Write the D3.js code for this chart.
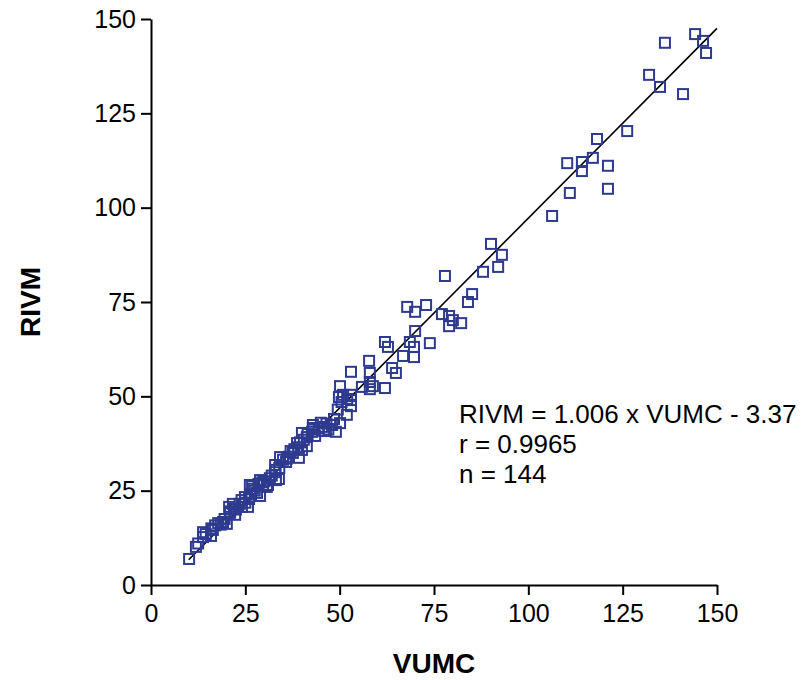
<!DOCTYPE html>
<html>
<head>
<meta charset="utf-8">
<script src="https://cdn.jsdelivr.net/npm/d3@7"></script>
<style>
  body { margin: 0; background: #fff; }
  svg { display: block; }
</style>
</head>
<body>
<div id="chart"></div>
<script>
// VUMC (x) and RIVM (y) readings
const vumc = [
  10.1, 11.9, 13.8, 13.8, 15.9, 16.4, 17.8, 19.1, 20.1, 20.7,
  21.7, 20.9, 22.3, 24.1, 24.9, 26.0, 25.7, 26.8, 28.9, 28.9,
  29.7, 31.0, 33.1, 32.9, 28.1, 26.2, 30.7, 33.9, 32.9, 34.2,
  35.8, 37.6, 38.7, 39.2, 40.0, 41.3, 40.0, 41.3, 42.7, 42.9,
  45.9, 48.0, 49.0, 50.1, 51.9, 42.9, 45.9, 53.0, 53.0, 53.0,
  50.9, 49.8, 50.1, 53.0, 57.8, 58.0, 58.0, 55.9, 58.8, 58.0,
  62.0, 63.9, 64.9, 62.0, 62.8, 66.8, 69.7, 69.7, 68.6, 70.0,
  73.9, 67.9, 70.0, 72.9, 77.1, 79.0, 80.0, 79.0, 82.2, 77.9,
  88.0, 85.1, 84.0, 90.1, 93.0, 92.0, 106.3, 111.0, 121.1, 110.3,
  114.2, 114.2, 117.1, 118.2, 121.1, 126.2, 132.0, 134.9, 136.2, 141.0,
  144.2, 146.3, 147.1,
  14.5, 17.0, 18.5, 21.0, 22.5, 23.5, 25.0, 27.5, 28.5, 30.0,
  31.5, 33.0, 34.0, 35.0, 36.5, 38.0, 39.5, 40.5, 41.5, 43.0,
  44.5, 46.5, 47.0, 48.5, 50.5, 52.0, 12.5, 19.5, 24.0, 26.5,
  32.0, 37.0, 45.0, 49.5, 16.0, 22.0, 27.0, 29.5, 36.0, 39.0,
  43.5
];
const rivm = [
  6.9, 10.1, 14.0, 12.7, 13.0, 14.6, 16.4, 16.7, 16.2, 20.7,
  21.5, 19.1, 18.6, 20.7, 23.3, 22.8, 20.7, 26.2, 27.8, 23.6,
  26.5, 26.5, 27.8, 29.9, 24.4, 26.5, 26.0, 28.1, 31.8, 33.9,
  32.6, 35.0, 37.6, 33.7, 35.8, 36.8, 40.3, 39.2, 40.6, 42.4,
  41.9, 42.4, 40.6, 42.9, 45.1, 41.6, 40.8, 47.4, 49.0, 50.4,
  50.4, 49.8, 52.7, 56.5, 59.4, 56.2, 53.8, 52.5, 52.7, 51.9,
  52.2, 57.5, 56.2, 64.4, 63.1, 60.7, 63.1, 60.4, 64.4, 67.3,
  64.1, 73.7, 72.4, 74.2, 71.8, 71.3, 70.2, 68.6, 69.4, 81.9,
  83.0, 77.1, 75.0, 90.4, 87.5, 84.3, 97.8, 103.9, 105.0, 111.8,
  112.1, 109.7, 113.2, 118.2, 111.1, 120.3, 135.2, 132.0, 143.7, 130.1,
  146.0, 144.2, 141.0,
  13.5, 15.8, 16.0, 19.5, 20.0, 21.5, 21.8, 25.0, 26.8, 27.5,
  28.3, 30.5, 31.0, 33.2, 34.0, 36.0, 37.8, 38.5, 40.0, 41.2,
  41.5, 42.8, 41.2, 44.0, 48.5, 49.3, 11.0, 17.5, 22.5, 24.0,
  29.0, 35.5, 43.0, 46.5, 15.0, 20.2, 25.5, 27.2, 33.5, 36.5,
  39.5
];
const xTicks = [0, 25, 50, 75, 100, 125, 150];
const yTicks = [0, 25, 50, 75, 100, 125, 150];
const slope = 1.006, intercept = -3.37;
const fitRange = [10, 150];
const statLines = ["RIVM = 1.006 x VUMC - 3.37", "r = 0.9965", "n = 144"];

const width = 806, height = 680;
const margin = {left: 151, right: 89, top: 19, bottom: 95};
const font = "Arial, 'Liberation Sans', sans-serif";
const blue = "#2d3a8f";

const svg = d3.select("#chart").append("svg")
  .attr("width", width)
  .attr("height", height);

const x = d3.scaleLinear().domain([0, 150]).range([margin.left, width - margin.right]);
const y = d3.scaleLinear().domain([0, 150]).range([height - margin.bottom, margin.top]);

const data = vumc.map((v, i) => ({v, r: rivm[i]}));

// axes
const xAxis = svg.append("g")
  .attr("transform", `translate(0,${y(0)})`)
  .call(d3.axisBottom(x).tickValues(xTicks).tickSize(10).tickPadding(9).tickSizeOuter(0));
const yAxis = svg.append("g")
  .attr("transform", `translate(${x(0)},0)`)
  .call(d3.axisLeft(y).tickValues(yTicks).tickSize(10).tickPadding(5).tickSizeOuter(0));

[xAxis, yAxis].forEach(g => {
  g.select(".domain").attr("stroke", "#000").attr("stroke-width", 2);
  g.selectAll(".tick line").attr("stroke", "#000").attr("stroke-width", 2);
  g.selectAll(".tick text")
    .attr("fill", "#000")
    .attr("font-family", font)
    .attr("font-size", 25);
});

// fit line
svg.append("line")
  .attr("x1", x(fitRange[0]))
  .attr("y1", y(slope * fitRange[0] + intercept))
  .attr("x2", x(fitRange[1]))
  .attr("y2", y(slope * fitRange[1] + intercept))
  .attr("stroke", "#000")
  .attr("stroke-width", 1.6);

// markers
const s = 10;
svg.append("g")
  .selectAll("rect")
  .data(data)
  .join("rect")
    .attr("x", d => x(d.v) - s / 2)
    .attr("y", d => y(d.r) - s / 2)
    .attr("width", s)
    .attr("height", s)
    .attr("fill", "none")
    .attr("stroke", blue)
    .attr("stroke-width", 2);

// stats text
svg.append("g")
  .selectAll("text")
  .data(statLines)
  .join("text")
    .attr("x", 459)
    .attr("y", (d, i) => 423 + i * 30)
    .attr("font-family", font)
    .attr("font-size", 26)
    .attr("fill", "#000")
    .text(d => d);

// axis titles
svg.append("text")
  .attr("x", (x(0) + x(150)) / 2)
  .attr("y", 673)
  .attr("text-anchor", "middle")
  .attr("font-family", font)
  .attr("font-weight", "bold")
  .attr("font-size", 28)
  .text("VUMC");

svg.append("text")
  .attr("transform", `translate(40,${(y(0) + y(150)) / 2}) rotate(-90)`)
  .attr("text-anchor", "middle")
  .attr("font-family", font)
  .attr("font-weight", "bold")
  .attr("font-size", 28)
  .text("RIVM");
</script>
</body>
</html>
